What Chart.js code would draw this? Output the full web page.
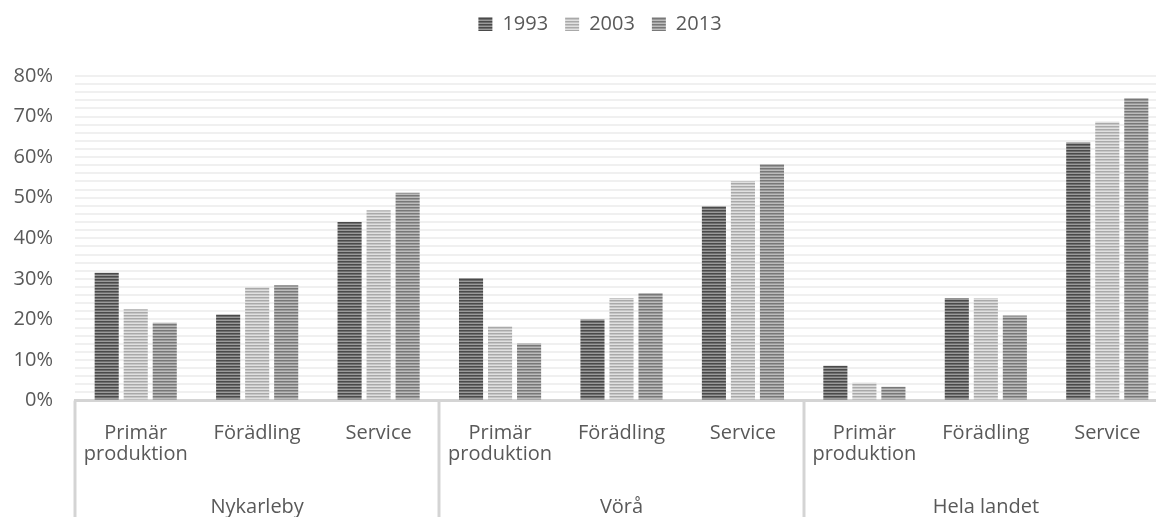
<!DOCTYPE html>
<html><head><meta charset="utf-8">
<script src="https://cdn.jsdelivr.net/npm/chart.js@4.4.0/dist/chart.umd.min.js"></script>
<style>
html,body{margin:0;padding:0;overflow:hidden;background:#fff;width:1156px;height:517px}
#wrap{position:absolute;left:0;top:0;width:1170px;height:517px}
</style>
</head><body><div id="wrap"><canvas id="c" width="1170" height="517"></canvas></div>
<script>
const regions = ["Nykarleby", "Vörå", "Hela landet"];
const sectors = [["Primär", "produktion"], "Förädling", "Service"];
const years = ["1993", "2003", "2013"];
const v1993 = [31.5, 21.2, 44.0, 30.2, 20.0, 47.9, 8.6, 25.2, 63.6];
const v2003 = [22.5, 28.0, 46.9, 18.3, 25.3, 54.1, 4.4, 25.2, 68.7];
const v2013 = [19.2, 28.4, 51.2, 14.1, 26.5, 58.3, 3.4, 21.0, 74.6];
const yMajorTicks = [0, 10, 20, 30, 40, 50, 60, 70, 80];

const FONT = "'Open Sans', 'Noto Sans', sans-serif";
const FS = 20;
const TXT = '#595959';

function stripes(colors) {
  const c = document.createElement('canvas');
  c.width = 4; c.height = colors.length;
  const g = c.getContext('2d');
  colors.forEach((col, i) => { g.fillStyle = col; g.fillRect(0, i, 4, 1); });
  return g.createPattern(c, 'repeat');
}
const ctx = document.getElementById('c').getContext('2d');
const fills = [
  stripes(['#4a4a4a', '#6e6e6e', '#9a9a9a']),
  stripes(['#a9a9a9', '#c6c6c6', '#e0e0e0']),
  stripes(['#787878', '#9a9a9a', '#bcbcbc'])
];

const labels = [];
regions.forEach(() => sectors.forEach(s => labels.push(s)));
const series = [v1993, v2003, v2013];

const groupPlugin = {
  id: 'groups',
  afterLayout(chart) {
    const lg = chart.legend;
    if (lg) { lg.left += 16; lg.right += 16; lg.top -= 32; lg.bottom -= 32; }
  },
  afterDraw(chart) {
    const x = chart.scales.x, ca = chart.chartArea, c = chart.ctx;
    const step = x.getPixelForValue(1) - x.getPixelForValue(0);
    c.save();
    c.strokeStyle = '#d4d4d4'; c.lineWidth = 3;
    for (let g = 0; g <= regions.length; g++) {
      const px = Math.round(x.getPixelForValue(g * sectors.length) - step / 2);
      c.beginPath(); c.moveTo(px, ca.bottom); c.lineTo(px, chart.height); c.stroke();
    }
    c.fillStyle = TXT; c.font = FS + "px " + FONT;
    c.textAlign = 'center'; c.textBaseline = 'alphabetic';
    regions.forEach((r, g) => {
      c.fillText(r, x.getPixelForValue(g * sectors.length + 1), 513);
    });
    c.restore();
  }
};

new Chart(ctx, {
  type: 'bar',
  data: {
    labels: labels,
    datasets: years.map((y, i) => ({
      label: y, data: series[i], backgroundColor: fills[i], borderWidth: 0,
      categoryPercentage: 0.717, barPercentage: 0.83
    }))
  },
  options: {
    responsive: false, animation: false, devicePixelRatio: 1,
    layout: { padding: { left: 0, right: 2, top: 29, bottom: 0 } },
    plugins: {
      legend: {
        position: 'top',
        labels: { boxWidth: 14, boxHeight: 14, padding: 17, color: TXT, font: { size: FS, family: FONT } }
      },
      tooltip: { enabled: false }
    },
    scales: {
      x: {
        grid: { display: false },
        border: { color: '#d4d4d4', width: 3 },
        ticks: { color: TXT, font: { size: FS, family: FONT, lineHeight: 1.05 }, padding: 14, maxRotation: 0, autoSkip: false },
        afterFit(s) { s.height = 116.4; }
      },
      y: {
        min: 0, max: 80,
        grid: { color: '#f0f0f0', lineWidth: 2, drawTicks: false },
        border: { display: false },
        ticks: {
          stepSize: 2, autoSkip: false, padding: 22, color: TXT,
          font: { size: FS, family: FONT },
          callback: v => yMajorTicks.includes(v) ? v + '%' : ''
        },
        afterFit(s) { s.width = 75; }
      }
    }
  },
  plugins: [groupPlugin]
});
</script></body></html>
